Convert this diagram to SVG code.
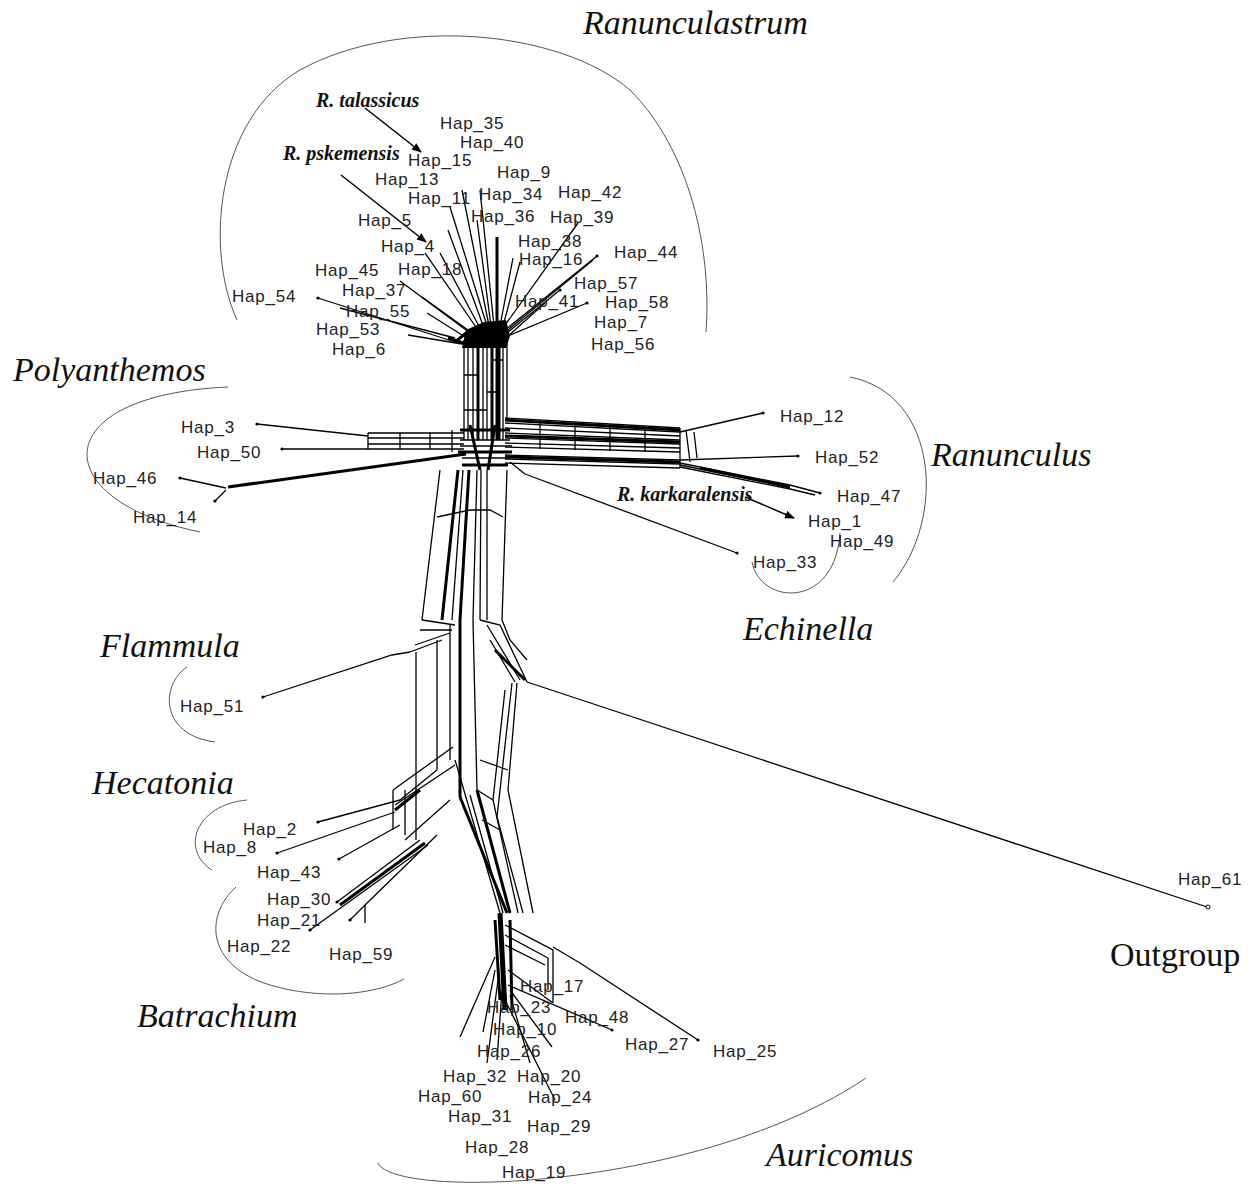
<svg xmlns="http://www.w3.org/2000/svg" width="1259" height="1189" viewBox="0 0 1259 1189">
<style>
.t{font-family:"Liberation Sans",Arial,sans-serif;font-size:17px;letter-spacing:0.8px;fill:#222}
.g{font-family:"Liberation Serif","Times New Roman",serif;font-size:34px;font-style:italic;fill:#111}
.o{font-family:"Liberation Serif","Times New Roman",serif;font-size:34px;fill:#111}
.s{font-family:"Liberation Serif","Times New Roman",serif;font-size:20px;font-style:italic;font-weight:bold;fill:#111}
.arc{fill:none;stroke:#555;stroke-width:1}
.e{fill:none;stroke:#000;stroke-width:1.3}
.k{fill:none;stroke:#000;stroke-width:3}
.kk{fill:none;stroke:#000;stroke-width:5}
.d{fill:#000}
.ar{fill:none;stroke:#000;stroke-width:1.5;marker-end:url(#ah)}
</style>
<defs>
<marker id="ah" markerWidth="10" markerHeight="8" refX="9" refY="4" orient="auto" markerUnits="userSpaceOnUse">
<path d="M0,0 L10,4 L0,8 Z" fill="#000"/>
</marker>
</defs>
<rect width="1259" height="1189" fill="#fff"/>

<g id="group-arcs">
<path class="arc" d="M237 320 C205 250 215 120 300 70 C400 15 560 30 630 90 C690 150 712 250 706 332"/>
<path class="arc" d="M228 387 C45 395 45 500 200 532"/>
<path class="arc" d="M850 377 C940 395 945 520 893 582"/>
<path class="arc" d="M752 562 C760 605 835 610 840 533"/>
<path class="arc" d="M187 667 C160 685 160 735 215 742"/>
<path class="arc" d="M247 800 C195 805 180 850 212 870"/>
<path class="arc" d="M236 887 C205 915 205 965 270 985 C320 1000 375 995 404 979"/>
<path class="arc" d="M378 1163 C395 1200 700 1190 866 1078"/>
</g>

<g id="group-labels">
<text class="g" x="583" y="34">Ranunculastrum</text>
<text class="g" x="13" y="381">Polyanthemos</text>
<text class="g" x="931" y="466">Ranunculus</text>
<text class="g" x="743" y="640">Echinella</text>
<text class="g" x="100" y="657">Flammula</text>
<text class="g" x="92" y="794">Hecatonia</text>
<text class="g" x="137" y="1027">Batrachium</text>
<text class="g" x="766" y="1166">Auricomus</text>
<text class="o" x="1110" y="966">Outgroup</text>
<text class="s" x="316" y="107">R. talassicus</text>
<text class="s" x="283" y="160">R. pskemensis</text>
<text class="s" x="617" y="501">R. karkaralensis</text>
</g>

<g id="connectors">
<path class="ar" d="M365 108 L421 152"/>
<path class="ar" d="M341 175 L426 242"/>
<path class="ar" d="M745 497 L794 518"/>

<path class="e" d="M318 298 L455 342"/>
<path class="e" d="M340 308 L455 338"/>
<path class="e" d="M408 335 L462 344"/>
<path class="e" d="M422 297 L475 335"/>
<path class="e" d="M427 313 L470 340"/>
<path class="e" d="M400 281 L470 333"/>
<path class="e" d="M425 253 L478 330"/>
<path class="e" d="M440 253 L481 330"/>
<path class="e" d="M448 230 L484 328"/>
<path class="e" d="M450 207 L487 326"/>
<path class="e" d="M462 190 L489 326"/>
<path class="e" d="M477 220 L491 326"/>
<path class="e" d="M480 190 L494 326"/>
<path class="k" d="M497 237 L497 326"/>
<path class="e" d="M513 258 L500 326"/>
<path class="e" d="M578 223 L503 328"/>
<path class="e" d="M597 256 L505 330"/>
<path class="e" d="M593 260 L503 334"/>
<path class="e" d="M560 290 L507 333"/>
<path class="e" d="M587 303 L508 336"/>
<path class="e" d="M545 303 L506 338"/>
<path class="e" d="M520 262 L502 330"/>
<path class="k" d="M455 342 L470 330 M462 344 L478 328 M448 338 L466 344"/>
<path d="M466 330 L484 322 L506 320 L510 336 L506 348 L462 348 Z" fill="#000"/>

<path class="e" d="M464 342 L464 440"/>
<path class="e" d="M468 342 L468 440"/>
<path class="e" d="M473 342 L473 440"/>
<path class="k" d="M478 342 L478 440"/>
<path class="e" d="M483 342 L483 440"/>
<path class="e" d="M487 342 L487 440"/>
<path class="k" d="M492 342 L492 440"/>
<path class="kk" d="M498 342 L498 440"/>
<path class="e" d="M503 342 L503 440"/>
<path class="e" d="M507 342 L507 420"/>
<path class="e" d="M464 375 L478 375 M487 392 L498 392 M464 410 L487 410 M492 360 L503 360"/>

<path class="k" d="M460 430 L510 430 M458 452 L512 452 M462 465 L508 465"/>
<path class="e" d="M460 440 L510 440 M460 446 L512 446 M462 458 L510 458"/>
<path class="k" d="M470 425 L480 470 M495 425 L488 470"/>

<path class="e" d="M464 433 L368 433 M464 438 L368 438 M464 444 L368 444 M464 449 L368 449"/>
<path class="e" d="M368 433 L368 449 M400 433 L400 449 M430 433 L430 449 M452 430 L452 452"/>
<path class="e" d="M257 424 L368 436"/>
<path class="e" d="M282 449 L368 449"/>
<path class="k" d="M466 454 L228 487"/>
<path class="e" d="M180 478 L226 488"/>
<path class="e" d="M215 501 L226 490"/>

<path class="e" d="M505 418 L680 428 M505 423 L680 432 M505 428 L680 436 M505 433 L680 440 M505 438 L680 444 M505 443 L680 448 M505 447 L680 452"/>
<path class="k" d="M505 420 L680 430 M505 436 L680 442"/>
<path class="e" d="M540 420 L540 449 M575 422 L575 450 M610 424 L610 451 M645 426 L645 452"/>
<path class="e" d="M505 455 L680 460 M505 459 L680 464 M505 463 L680 468"/>
<path class="k" d="M505 457 L680 462"/>
<path class="e" d="M680 428 L680 468 M686 430 L690 462 M694 432 L697 458"/>
<path class="e" d="M680 432 L763 413"/>
<path class="e" d="M680 460 L798 456"/>
<path class="e" d="M680 463 L790 485 L820 493 M680 467 L790 489 L815 495 M680 465 L790 487"/>
<path class="k" d="M700 468 L790 487"/>
<path class="e" d="M525 474 L737 553"/>
<path class="e" d="M510 462 L525 474"/>

<path class="e" d="M440 470 L422 620"/>
<path class="k" d="M458 470 L442 620"/>
<path class="e" d="M463 470 L452 620"/>
<path class="k" d="M469 470 L460 620"/>
<path class="e" d="M477 470 L473 620"/>
<path class="e" d="M481 470 L480 620"/>
<path class="e" d="M487 470 L487 620"/>
<path class="e" d="M507 470 L502 620"/>
<path class="e" d="M437 517 L470 510 L490 510 L503 517"/>

<path class="e" d="M422 620 L455 625 M420 630 L452 630 M415 645 L450 633 M410 652 L442 640"/>
<path class="e" d="M263 697 L392 655 L410 652"/>
<path class="e" d="M416 652 L416 787"/>
<path class="e" d="M437 640 L437 770"/>
<path class="e" d="M450 625 L450 760"/>
<path class="k" d="M460 620 L460 797"/>
<path class="e" d="M473 620 L477 790"/>

<path class="e" d="M480 620 L500 625 L527 682"/>
<path class="e" d="M487 625 L520 680"/>
<path class="e" d="M490 640 L515 682"/>
<path class="e" d="M502 620 L510 640 L527 660"/>
<path class="k" d="M495 650 L525 680"/>
<path class="e" d="M527 682 L1207 907"/>
<circle cx="1208" cy="907" r="2" fill="#fff" stroke="#000" stroke-width="1"/>

<path class="e" d="M517 683 L508 790 L533 913"/>
<path class="e" d="M512 683 L497 817 L523 913"/>
<path class="e" d="M505 690 L493 800 L518 913"/>
<path class="k" d="M460 797 L507 913"/>
<path class="k" d="M477 790 L510 913"/>
<path class="e" d="M470 795 L503 913"/>
<path class="e" d="M455 760 L500 913"/>
<path class="e" d="M477 790 L493 800 M480 760 L508 770 M482 820 L500 830"/>

<path class="e" d="M453 747 L393 790 M455 765 L395 805 M450 800 L405 840 M437 770 L400 800"/>
<path class="e" d="M393 790 L393 830 M405 790 L405 835 M416 787 L416 840"/>
<path class="k" d="M395 810 L420 790"/>
<path class="e" d="M318 822 L400 800"/>
<path class="e" d="M277 853 L395 812"/>
<path class="e" d="M339 859 L400 825"/>
<path class="e" d="M420 840 L337 902"/>
<path class="k" d="M425 843 L340 905"/>
<path class="e" d="M428 845 L310 930"/>
<path class="e" d="M437 835 L365 905 L350 920"/>
<path class="e" d="M365 905 L365 923"/>

<path class="kk" d="M500 913 L505 1010"/>
<path class="k" d="M495 920 L500 1000 M510 920 L512 1010"/>
<path class="e" d="M505 925 L553 950 L553 1003 M505 935 L548 958 M505 945 L545 965 M548 958 L548 990"/>
<path class="e" d="M553 947 L580 963 L698 1040"/>
<path class="e" d="M508 985 L612 1030"/>
<path class="e" d="M495 957 L460 1037"/>
<path class="e" d="M495 970 L483 1032"/>
<path class="e" d="M498 980 L487 1063"/>
<path class="e" d="M502 990 L497 1060"/>
<path class="e" d="M510 995 L530 1063"/>
<path class="e" d="M510 990 L552 1047"/>
<path class="e" d="M505 1000 L555 1100"/>
<path class="e" d="M508 970 L553 1003"/>
</g>

<g id="nodes">
<g id="hap35"><text class="t" x="440" y="129">Hap_35</text></g>
<g id="hap40"><text class="t" x="460" y="148">Hap_40</text></g>
<g id="hap15"><text class="t" x="408" y="166">Hap_15</text></g>
<g id="hap13"><text class="t" x="375" y="185">Hap_13</text></g>
<g id="hap9"><text class="t" x="497" y="178">Hap_9</text></g>
<g id="hap34"><text class="t" x="479" y="200">Hap_34</text></g>
<g id="hap42"><text class="t" x="558" y="198">Hap_42</text></g>
<g id="hap11"><text class="t" x="408" y="204">Hap_11</text></g>
<g id="hap36"><text class="t" x="471" y="222">Hap_36</text></g>
<g id="hap39"><text class="t" x="550" y="223">Hap_39</text></g>
<g id="hap5"><text class="t" x="358" y="226">Hap_5</text></g>
<g id="hap38"><text class="t" x="518" y="247">Hap_38</text></g>
<g id="hap44"><text class="t" x="614" y="258">Hap_44</text><circle class="d" cx="597" cy="256" r="1.6"/></g>
<g id="hap4"><text class="t" x="381" y="252">Hap_4</text></g>
<g id="hap16"><text class="t" x="519" y="265">Hap_16</text></g>
<g id="hap18"><text class="t" x="398" y="275">Hap_18</text></g>
<g id="hap45"><text class="t" x="315" y="276">Hap_45</text></g>
<g id="hap57"><text class="t" x="574" y="289">Hap_57</text><circle class="d" cx="560" cy="290" r="1.6"/></g>
<g id="hap54"><text class="t" x="232" y="302">Hap_54</text><circle class="d" cx="318" cy="298" r="1.6"/></g>
<g id="hap37"><text class="t" x="342" y="296">Hap_37</text></g>
<g id="hap41"><text class="t" x="515" y="307">Hap_41</text></g>
<g id="hap58"><text class="t" x="605" y="308">Hap_58</text><circle class="d" cx="587" cy="303" r="1.6"/></g>
<g id="hap55"><text class="t" x="346" y="317">Hap_55</text></g>
<g id="hap7"><text class="t" x="594" y="328">Hap_7</text></g>
<g id="hap53"><text class="t" x="316" y="335">Hap_53</text></g>
<g id="hap6"><text class="t" x="332" y="355">Hap_6</text></g>
<g id="hap56"><text class="t" x="591" y="350">Hap_56</text></g>

<g id="hap3"><text class="t" x="181" y="433">Hap_3</text><circle class="d" cx="257" cy="424" r="1.6"/></g>
<g id="hap50"><text class="t" x="197" y="458">Hap_50</text><circle class="d" cx="282" cy="449" r="1.6"/></g>
<g id="hap46"><text class="t" x="93" y="484">Hap_46</text><circle class="d" cx="180" cy="478" r="1.6"/></g>
<g id="hap14"><text class="t" x="133" y="523">Hap_14</text><circle class="d" cx="215" cy="501" r="1.6"/></g>

<g id="hap12"><text class="t" x="780" y="422">Hap_12</text><circle class="d" cx="763" cy="413" r="1.6"/></g>
<g id="hap52"><text class="t" x="815" y="463">Hap_52</text><circle class="d" cx="798" cy="456" r="1.6"/></g>
<g id="hap47"><text class="t" x="837" y="502">Hap_47</text><circle class="d" cx="820" cy="493" r="1.6"/></g>
<g id="hap1"><text class="t" x="808" y="527">Hap_1</text></g>
<g id="hap49"><text class="t" x="830" y="547">Hap_49</text></g>
<g id="hap33"><text class="t" x="753" y="568">Hap_33</text><circle class="d" cx="737" cy="553" r="1.6"/></g>

<g id="hap51"><text class="t" x="180" y="712">Hap_51</text><circle class="d" cx="263" cy="697" r="1.6"/></g>

<g id="hap2"><text class="t" x="243" y="835">Hap_2</text><circle class="d" cx="318" cy="822" r="1.6"/></g>
<g id="hap8"><text class="t" x="203" y="853">Hap_8</text><circle class="d" cx="277" cy="853" r="1.6"/></g>
<g id="hap43"><text class="t" x="257" y="878">Hap_43</text><circle class="d" cx="339" cy="859" r="1.6"/></g>
<g id="hap30"><text class="t" x="267" y="905">Hap_30</text><circle class="d" cx="337" cy="902" r="1.6"/></g>
<g id="hap21"><text class="t" x="257" y="926">Hap_21</text><circle class="d" cx="310" cy="930" r="1.6"/></g>
<g id="hap22"><text class="t" x="227" y="952">Hap_22</text></g>
<g id="hap59"><text class="t" x="329" y="960">Hap_59</text><circle class="d" cx="350" cy="920" r="1.6"/></g>

<g id="hap17"><text class="t" x="520" y="992">Hap_17</text></g>
<g id="hap23"><text class="t" x="487" y="1013">Hap_23</text></g>
<g id="hap48"><text class="t" x="565" y="1023">Hap_48</text><circle class="d" cx="612" cy="1030" r="1.6"/></g>
<g id="hap10"><text class="t" x="493" y="1035">Hap_10</text></g>
<g id="hap27"><text class="t" x="625" y="1050">Hap_27</text><circle class="d" cx="698" cy="1040" r="1.6"/></g>
<g id="hap25"><text class="t" x="713" y="1057">Hap_25</text></g>
<g id="hap26"><text class="t" x="477" y="1057">Hap_26</text></g>
<g id="hap32"><text class="t" x="443" y="1082">Hap_32</text></g>
<g id="hap20"><text class="t" x="517" y="1082">Hap_20</text></g>
<g id="hap60"><text class="t" x="418" y="1102">Hap_60</text></g>
<g id="hap24"><text class="t" x="528" y="1103">Hap_24</text></g>
<g id="hap31"><text class="t" x="448" y="1122">Hap_31</text></g>
<g id="hap29"><text class="t" x="527" y="1132">Hap_29</text></g>
<g id="hap28"><text class="t" x="465" y="1153">Hap_28</text></g>
<g id="hap19"><text class="t" x="502" y="1178">Hap_19</text></g>
<g id="hap61"><text class="t" x="1178" y="885">Hap_61</text></g>
</g>
</svg>
